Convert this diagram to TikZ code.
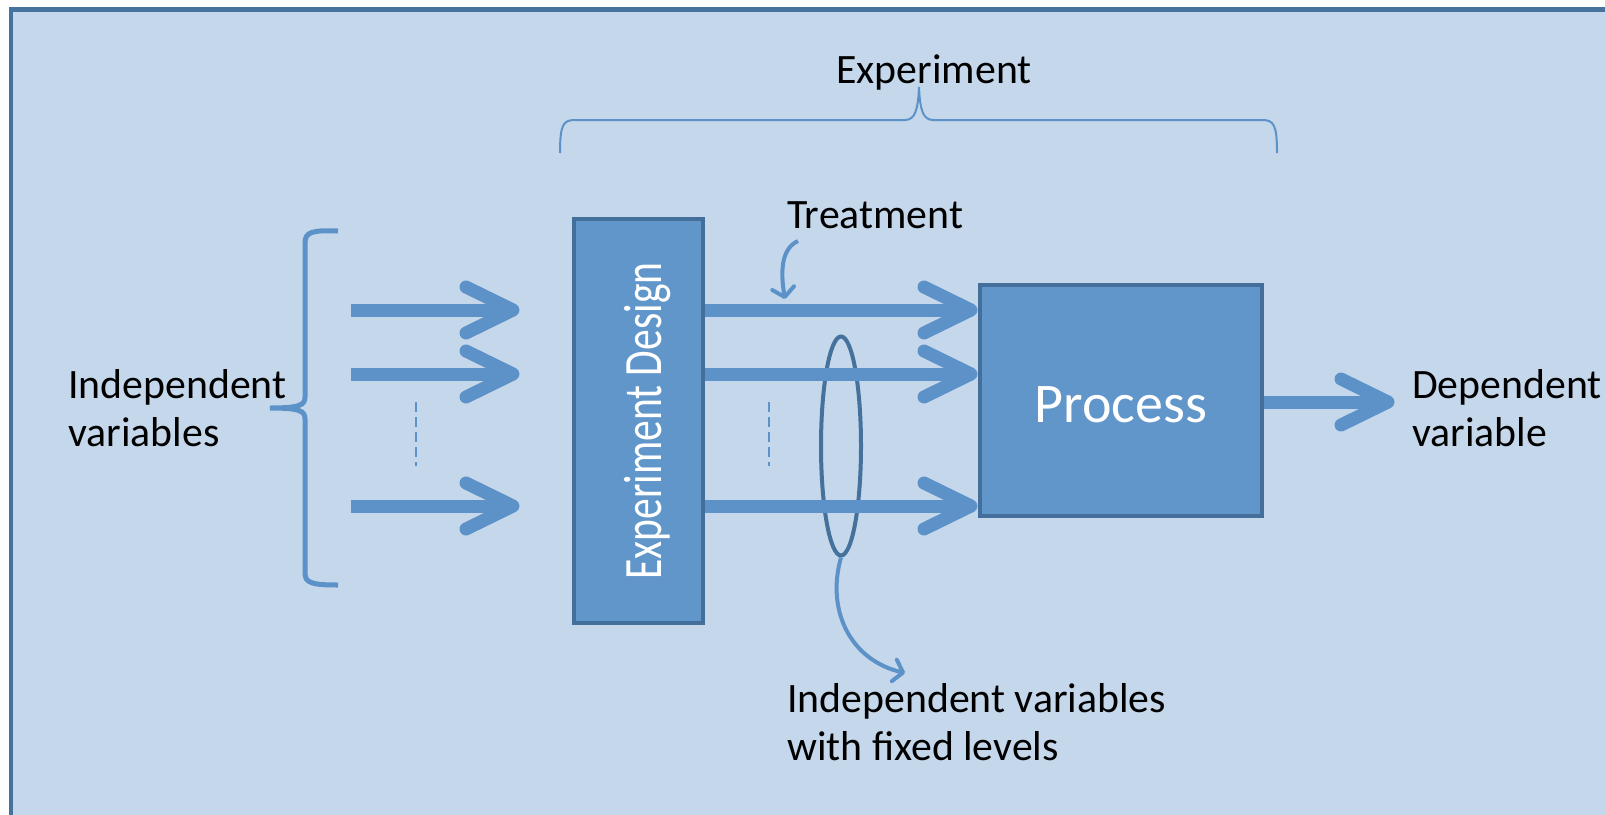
\documentclass[tikz,border=0pt]{standalone}
\usepackage{fontspec}
\setmainfont{Carlito}
\usepackage{graphicx}
\usetikzlibrary{calc,shapes.geometric,arrows.meta}
\definecolor{bgc}{RGB}{197,215,235}
\definecolor{framec}{RGB}{70,114,158}
\definecolor{arrowc}{RGB}{93,146,200}
\definecolor{boxfill}{RGB}{97,150,202}
\definecolor{boxdraw}{RGB}{67,111,154}
\definecolor{ellc}{RGB}{69,113,157}
\newcommand{\chev}[1]{\draw[chevhead] ($(#1)+(-54,-23)$) -- ($(#1)+(-7,0)$) -- ($(#1)+(-54,23)$);}
\begin{document}
\begin{tikzpicture}[x=1pt,y=-1pt,
  lbl/.style={font=\fontsize{41.8}{48}\selectfont, inner sep=0pt, align=left, text=black},
  boxnode/.style={draw=boxdraw, fill=boxfill, line width=4pt, inner sep=0pt, text=white},
  shaft/.style={draw=arrowc, line width=13pt, line cap=butt},
  chevhead/.style={draw=arrowc, line width=13pt, line cap=round, line join=round},
  thinarrow/.style={draw=arrowc, line width=4pt, -{Straight Barb[length=9pt,width=22pt,round]}},
  brace/.style={draw=arrowc},
  dots/.style={draw=arrowc, line width=2pt, dash pattern=on 10pt off 5pt}
]
\clip (0,0) rectangle (1605,814);
\fill[white] (0,0) rectangle (1605,814);
\draw[line width=4.5pt, draw=framec, fill=bgc] (11.2,9.5) rectangle (1660,870);

% nodes
\node[boxnode, minimum width=129pt, minimum height=404pt] (design) at (638.5,421)
  {\fontsize{54}{60}\selectfont\rotatebox{90}{\raisebox{0pt}[46pt][0pt]{\scalebox{0.77}[1]{Experiment Design}}}};
\node[boxnode, minimum width=282pt, minimum height=231pt, text height=43pt, text depth=0pt,
  font=\fontsize{56}{62}\selectfont] (process) at (1121,400.5) {Process};
\node[draw=ellc, line width=4pt, ellipse, minimum width=40pt, minimum height=219pt, inner sep=0pt] (ell) at (841,446) {};

\node[lbl, anchor=base] (exp) at (934,83) {Experiment};
\node[lbl, anchor=base west] (treat) at (787,228) {Treatment};
\node[lbl, anchor=base west] (indep) at (68,446) {Independent\\variables};
\node[lbl, anchor=base west] (dep) at (1412,446) {Dependent\\variable};
\node[lbl, anchor=base west] (fixed) at (787,760) {Independent variables\\with fixed levels};

% left arrows
\coordinate (s1) at (351,310); \coordinate (t1) at (520,310);
\coordinate (s2) at (351,374); \coordinate (t2) at (520,374);
\coordinate (s3) at (351,506); \coordinate (t3) at (520,506);
\foreach \i in {1,2,3}{
  \draw[shaft] (s\i) -- ($(t\i)+(-8,0)$);
  \chev{t\i}
}
% middle arrows
\coordinate (m1) at (design.east |- t1); \coordinate (p1) at (process.west |- t1);
\coordinate (m2) at (design.east |- t2); \coordinate (p2) at (process.west |- t2);
\coordinate (m3) at (design.east |- t3); \coordinate (p3) at (process.west |- t3);
\foreach \i in {1,2,3}{
  \draw[shaft] (m\i) -- ($(p\i)+(-8,0)$);
  \chev{p\i}
}
% output arrow
\coordinate (o1) at (process.east |- 0,402); \coordinate (o2) at (1395,402);
\draw[shaft] (o1) -- ($(o2)+(-8,0)$);
\chev{o2}

% dashed ellipsis marks
\coordinate (d1a) at (416,402); \coordinate (d1b) at (416,466);
\coordinate (d2a) at (769,402); \coordinate (d2b) at (769,466);
\draw[dots] (d1a) -- (d1b);
\draw[dots] (d2a) -- (d2b);

% left brace
\draw[brace, line width=5pt] (338,231) .. controls (312,230) and (305,232) .. (305,243) -- (305,397)
  .. controls (305,405) and (300,408) .. (270,408)
  .. controls (300,408) and (305,411) .. (305,419) -- (305,573)
  .. controls (305,583) and (312,585) .. (338,585);

% top brace
\draw[brace, line width=2pt] (560,153) .. controls (560,125) and (563,120) .. (575,120) -- (905,120)
  .. controls (915,120) and (918,110) .. (919,87)
  .. controls (920,110) and (923,120) .. (933,120) -- (1262,120)
  .. controls (1274,120) and (1277,125) .. (1277,153);

% treatment pointer
\coordinate (trs) at (798,241); \coordinate (tre) at (785,299);
\draw[thinarrow] (trs) .. controls (782,248) and (780,270) .. (tre);

% fixed levels pointer
\coordinate (fxe) at (905,673);
\draw[thinarrow] (ell.south) .. controls (826,610) and (850,660) .. (fxe);
\end{tikzpicture}
\end{document}
